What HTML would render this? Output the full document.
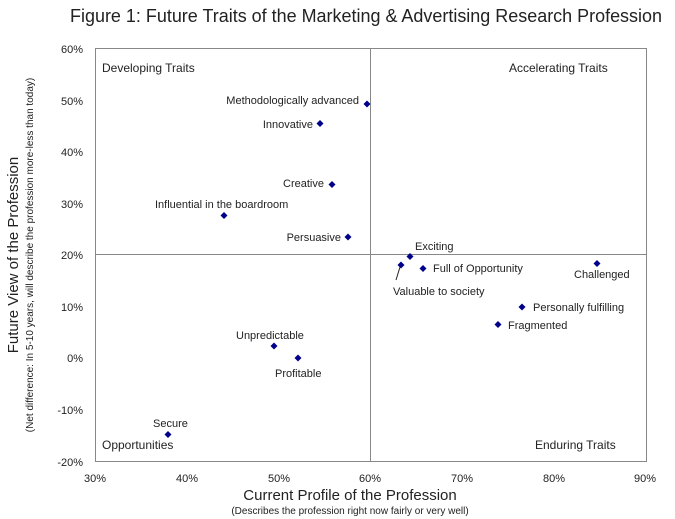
<!DOCTYPE html>
<html><head><style>body{margin:0;background:#fff}svg{display:block}text{font-family:"Liberation Sans",sans-serif;fill:#222}</style></head><body>
<svg width="675" height="519" viewBox="0 0 675 519">
<text x="70" y="22" font-size="18" textLength="592" lengthAdjust="spacingAndGlyphs">Figure 1: Future Traits of the Marketing &amp; Advertising Research Profession</text>
<rect x="95.5" y="48.5" width="551" height="413" fill="none" stroke="#888" stroke-width="1"/>
<line x1="370.5" y1="48" x2="370.5" y2="461" stroke="#888"/>
<line x1="95" y1="254.5" x2="646" y2="254.5" stroke="#888"/>
<g font-size="11" fill="#333" text-anchor="end">
<text x="83" y="53">60%</text><text x="83" y="105">50%</text><text x="83" y="156">40%</text><text x="83" y="208">30%</text><text x="83" y="259">20%</text><text x="83" y="311">10%</text><text x="83" y="362">0%</text><text x="83" y="414">-10%</text><text x="83" y="466">-20%</text>
</g>
<g font-size="11" text-anchor="middle">
<text x="95" y="482">30%</text><text x="187" y="482">40%</text><text x="279" y="482">50%</text><text x="370" y="482">60%</text><text x="462" y="482">70%</text><text x="554" y="482">80%</text><text x="645" y="482">90%</text>
</g>
<text x="350" y="500" font-size="15" text-anchor="middle">Current Profile of the Profession</text>
<text x="350" y="514" font-size="10" text-anchor="middle">(Describes the profession right now fairly or very well)</text>
<text transform="translate(18,255) rotate(-90)" font-size="15" text-anchor="middle">Future View of the Profession</text>
<text transform="translate(33,255) rotate(-90)" font-size="10" text-anchor="middle">(Net difference: In 5-10 years, will describe the profession more-less than today)</text>
<g font-size="12">
<text x="102" y="72">Developing Traits</text>
<text x="509" y="72">Accelerating Traits</text>
<text x="102" y="449">Opportunities</text>
<text x="535" y="449">Enduring Traits</text>
</g>
<g fill="#00008b">
<path d="M367 100.5l3.5 3.5-3.5 3.5-3.5-3.5z"/>
<path d="M320 120l3.5 3.5-3.5 3.5-3.5-3.5z"/>
<path d="M332 181l3.5 3.5-3.5 3.5-3.5-3.5z"/>
<path d="M224 212l3.5 3.5-3.5 3.5-3.5-3.5z"/>
<path d="M348 233.5l3.5 3.5-3.5 3.5-3.5-3.5z"/>
<path d="M410 253l3.5 3.5-3.5 3.5-3.5-3.5z"/>
<path d="M401 261.5l3.5 3.5-3.5 3.5-3.5-3.5z"/>
<path d="M423 265l3.5 3.5-3.5 3.5-3.5-3.5z"/>
<path d="M597 260l3.5 3.5-3.5 3.5-3.5-3.5z"/>
<path d="M522 303.5l3.5 3.5-3.5 3.5-3.5-3.5z"/>
<path d="M498 321l3.5 3.5-3.5 3.5-3.5-3.5z"/>
<path d="M274 342.5l3.5 3.5-3.5 3.5-3.5-3.5z"/>
<path d="M298 354.5l3.5 3.5-3.5 3.5-3.5-3.5z"/>
<path d="M168 431l3.5 3.5-3.5 3.5-3.5-3.5z"/>
</g>
<line x1="400" y1="267" x2="396" y2="280" stroke="#222"/>
<g font-size="11">
<text x="359" y="104" text-anchor="end">Methodologically advanced</text>
<text x="313" y="128" text-anchor="end">Innovative</text>
<text x="324" y="187" text-anchor="end">Creative</text>
<text x="155" y="208">Influential in the boardroom</text>
<text x="341" y="241" text-anchor="end">Persuasive</text>
<text x="415" y="250">Exciting</text>
<text x="433" y="272">Full of Opportunity</text>
<text x="393" y="295">Valuable to society</text>
<text x="574" y="278">Challenged</text>
<text x="533" y="311">Personally fulfilling</text>
<text x="508" y="329">Fragmented</text>
<text x="236" y="339">Unpredictable</text>
<text x="275" y="377">Profitable</text>
<text x="153" y="427">Secure</text>
</g>
</svg>
</body></html>
